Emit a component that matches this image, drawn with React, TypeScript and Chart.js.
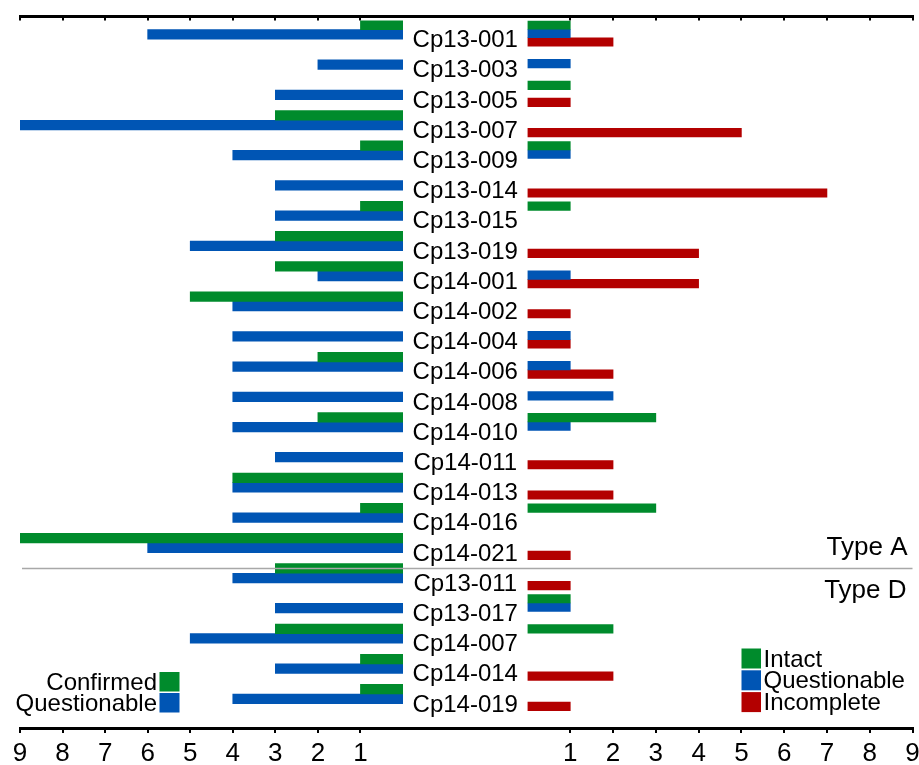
import React, { useEffect, useRef } from 'react';
import { Chart, registerables } from 'chart.js';

Chart.register(...registerables);

const FONT = '"Liberation Sans", Arial, Helvetica, sans-serif';

// ---- data ----
const categories = [
  'Cp13-001', 'Cp13-003', 'Cp13-005', 'Cp13-007', 'Cp13-009', 'Cp13-014',
  'Cp13-015', 'Cp13-019', 'Cp14-001', 'Cp14-002', 'Cp14-004', 'Cp14-006',
  'Cp14-008', 'Cp14-010', 'Cp14-011', 'Cp14-013', 'Cp14-016', 'Cp14-021',
  'Cp13-011', 'Cp13-017', 'Cp14-007', 'Cp14-014', 'Cp14-019',
];
const typeACount = 18;
const groupNames = ['Type A', 'Type D'];

// left side
const confirmed = [1, 0, 0, 3, 1, 0, 1, 3, 3, 5, 0, 2, 0, 2, 0, 4, 1, 9, 3, 0, 3, 1, 1];
const questionableLeft = [6, 2, 3, 9, 4, 3, 3, 5, 2, 4, 4, 4, 4, 4, 3, 4, 4, 6, 4, 3, 5, 3, 4];
// right side
const intact = [1, 0, 1, 0, 1, 0, 1, 0, 0, 0, 0, 0, 0, 3, 0, 0, 3, 0, 0, 1, 2, 0, 0];
const questionableRight = [1, 1, 0, 0, 1, 0, 0, 0, 1, 0, 1, 1, 2, 1, 0, 0, 0, 0, 0, 1, 0, 0, 0];
const incomplete = [2, 0, 1, 5, 0, 7, 0, 4, 4, 1, 1, 2, 0, 0, 2, 2, 0, 1, 1, 0, 0, 2, 1];

const axisMin = 0;
const axisMax = 9;

const GREEN = '#008B2C';
const BLUE = '#0055B4';
const RED = '#B30000';

// zero counts are drawn as empty slots
const toPoints = (arr: number[]) => arr.map((v, i) => ({ x: v === 0 ? null : v, y: i }));

const dropZeroTick = (s: any) => {
  s.ticks = s.ticks.filter((t: any) => t.value !== 0);
};
const noPad = (s: any) => {
  s.paddingLeft = 0;
  s.paddingRight = 0;
};

const overlayPlugin = {
  id: 'overlay',
  afterDatasetsDraw(chart: any) {
    const ctx = chart.ctx;
    const yS = chart.scales.yL;
    const xM = chart.scales.xM;
    const area = chart.chartArea;
    ctx.save();

    // category labels in the middle column
    ctx.fillStyle = '#000';
    ctx.font = `24px ${FONT}`;
    ctx.textAlign = 'center';
    ctx.textBaseline = 'alphabetic';
    const cx = (xM.left + xM.right) / 2;
    categories.forEach((c, i) => {
      ctx.fillText(c, cx, yS.getPixelForValue(i) + 8);
    });

    // group separator
    const sy = Math.round(yS.getPixelForValue(typeACount - 0.5)) + 0.5;
    ctx.strokeStyle = '#a8a8a8';
    ctx.lineWidth = 1.5;
    ctx.beginPath();
    ctx.moveTo(area.left + 2, sy);
    ctx.lineTo(area.right, sy);
    ctx.stroke();

    ctx.font = `26px ${FONT}`;
    ctx.textAlign = 'right';
    ctx.fillText(groupNames[0], area.right - 5, sy - 14);
    ctx.fillText(groupNames[1], area.right - 6, sy + 29.5);

    // legends
    ctx.font = `24px ${FONT}`;
    const metas = chart.data.datasets.map((d: any, i: number) => ({ d, i }));
    const left = metas.filter((m: any) => m.d.xAxisID === 'xL');
    const right = metas.filter((m: any) => m.d.xAxisID === 'xR');

    left.forEach((m: any, k: number) => {
      const top = 672 + k * 21;
      ctx.fillStyle = m.d.backgroundColor;
      ctx.fillRect(159.5, top, 20, 19.5);
      ctx.fillStyle = '#000';
      ctx.textAlign = 'right';
      ctx.fillText(m.d.label, 157, top + 18);
    });
    right.forEach((m: any, k: number) => {
      const top = 648.5 + k * 21.8;
      ctx.fillStyle = m.d.backgroundColor;
      ctx.fillRect(741.5, top, 19.5, 20);
      ctx.fillStyle = '#000';
      ctx.textAlign = 'left';
      ctx.fillText(m.d.label, 763.5, top + 18);
    });

    ctx.restore();
  },
};

const tickFont = { family: FONT, size: 26 };

const bottomAxis = (weight: number, stackWeight: number, reverse: boolean) => ({
  type: 'linear',
  axis: 'x',
  position: 'bottom',
  stack: 'bottom',
  stackWeight,
  weight,
  reverse,
  min: axisMin,
  max: axisMax,
  afterBuildTicks: dropZeroTick,
  afterFit: noPad,
  ticks: { stepSize: 1, font: tickFont, color: '#000', padding: 5, maxRotation: 0, autoSkip: false },
  grid: { display: true, drawOnChartArea: false, drawTicks: true, tickLength: 5, color: '#000', lineWidth: 2 },
  border: { display: true, color: '#000', width: 3 },
});

const topAxis = (weight: number, stackWeight: number, reverse: boolean) => ({
  type: 'linear',
  axis: 'x',
  position: 'top',
  stack: 'top',
  stackWeight,
  weight,
  reverse,
  min: axisMin,
  max: axisMax,
  afterBuildTicks: dropZeroTick,
  afterFit: noPad,
  ticks: { display: false, stepSize: 1 },
  grid: { display: true, drawOnChartArea: false, drawTicks: true, tickLength: -4, color: '#000', lineWidth: 2 },
  border: { display: true, color: '#000', width: 3 },
});

const App = () => {
  const ref = useRef<HTMLCanvasElement | null>(null);

  useEffect(() => {
    if (!ref.current) return;
    const yBase = { type: 'linear', axis: 'y', reverse: true, display: false, offset: false };
    const chart = new Chart(ref.current, {
      type: 'bar',
      data: {
        datasets: [
          { label: 'Confirmed', data: toPoints(confirmed), backgroundColor: GREEN, xAxisID: 'xL', yAxisID: 'yL', barThickness: 9.6, borderWidth: 0 },
          { label: 'Questionable', data: toPoints(questionableLeft), backgroundColor: BLUE, xAxisID: 'xL', yAxisID: 'yL', barThickness: 9.6, borderWidth: 0 },
          { label: 'Intact', data: toPoints(intact), backgroundColor: GREEN, xAxisID: 'xR', yAxisID: 'yR', barThickness: 8.5, borderWidth: 0 },
          { label: 'Questionable', data: toPoints(questionableRight), backgroundColor: BLUE, xAxisID: 'xR', yAxisID: 'yR', barThickness: 8.5, borderWidth: 0 },
          { label: 'Incomplete', data: toPoints(incomplete), backgroundColor: RED, xAxisID: 'xR', yAxisID: 'yR', barThickness: 8.5, borderWidth: 0 },
        ] as any,
      },
      options: {
        indexAxis: 'y',
        animation: false,
        responsive: false,
        maintainAspectRatio: false,
        layout: { padding: { left: 20, right: 6.5, top: 20.5, bottom: -13.2 } },
        plugins: { legend: { display: false }, tooltip: { enabled: false } },
        scales: {
          yL: { ...yBase, min: -0.62, max: 22.94 },
          yR: { ...yBase, min: -0.57, max: 22.99 },
          xL: bottomAxis(1, 383, true),
          xM: {
            type: 'linear', axis: 'x', position: 'bottom', stack: 'bottom', stackWeight: 124.5, weight: 2,
            min: 0, max: 1,
            ticks: { display: false },
            grid: { display: false, tickLength: 5 },
            border: { display: true, color: '#000', width: 3 },
          },
          xR: bottomAxis(3, 385, false),
          xLt: topAxis(3, 383, true),
          xMt: {
            type: 'linear', axis: 'x', position: 'top', stack: 'top', stackWeight: 124.5, weight: 2,
            min: 0, max: 1,
            ticks: { display: false },
            grid: { display: false, drawTicks: true, tickLength: -4 },
            border: { display: true, color: '#000', width: 3 },
          },
          xRt: topAxis(1, 385, false),
        } as any,
      },
      plugins: [overlayPlugin],
    } as any);
    return () => chart.destroy();
  }, []);

  return (
    <div style={{ position: 'absolute', left: 0, top: 0, width: 919, height: 765, background: '#fff' }}>
      <canvas ref={ref} width={919} height={765} style={{ display: 'block' }} />
    </div>
  );
};

export default App;
